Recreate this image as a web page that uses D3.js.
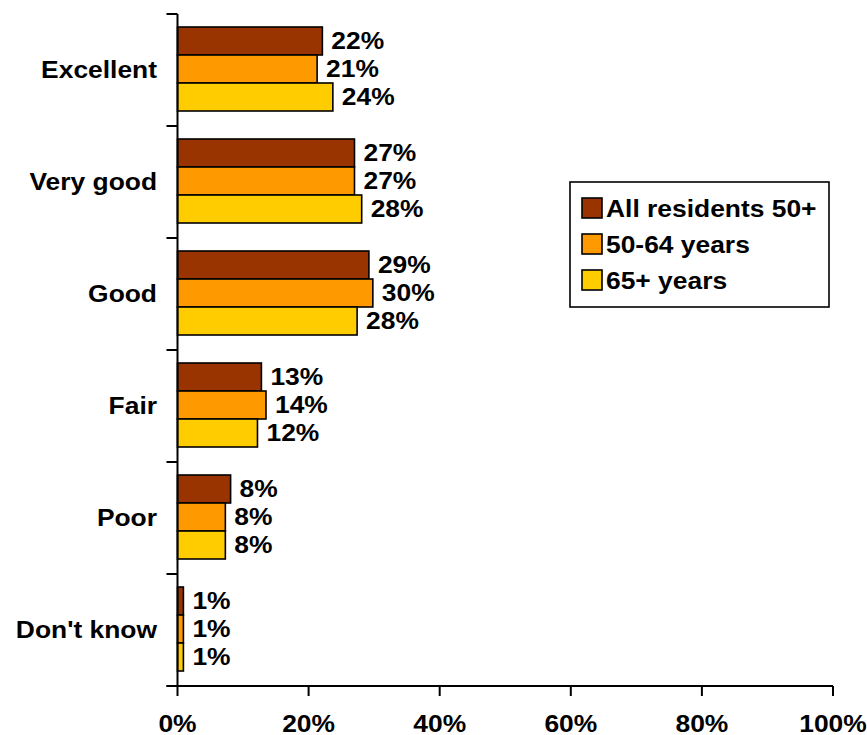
<!DOCTYPE html>
<html><head><meta charset="utf-8">
<script src="https://cdn.jsdelivr.net/npm/d3@7"></script>
<style>body{margin:0;background:#fff}text{font-family:"Liberation Sans",Arial,sans-serif;font-weight:bold;fill:#000}</style>
</head><body><svg id="c" width="867" height="735"></svg>
<script>
const categories = ["Excellent","Very good","Good","Fair","Poor","Don't know"];
const series = ["All residents 50+","50-64 years","65+ years"];
const colors = ["#993300","#FF9900","#FFCC00"];
const allResidents = [22.1,27.0,29.2,12.8,8.1,0.9];
const age5064 = [21.3,27.0,29.8,13.5,7.3,0.9];
const age65 = [23.7,28.1,27.4,12.2,7.3,0.9];
const labelsAll = ["22%","27%","29%","13%","8%","1%"];
const labels5064 = ["21%","27%","30%","14%","8%","1%"];
const labels65 = ["24%","28%","28%","12%","8%","1%"];
const xTicks = [0,20,40,60,80,100];

const values = [allResidents, age5064, age65];
const labels = [labelsAll, labels5064, labels65];
const SX = 1.1;

const svg = d3.select("#c");
const x = d3.scaleLinear().domain([0,100]).range([177.5,833]);
const y0 = d3.scaleBand().domain(categories).range([14,686]).padding(0);
const y1 = d3.scaleBand().domain(series).range([13,97]).padding(0);

function place(sel, fx, fy){
  sel.attr("transform",(d,i)=>`translate(${fx(d,i)},${fy(d,i)}) scale(${SX},1)`)
     .attr("font-size","24px").attr("dy","0.36em");
}

// bars
series.forEach((s,si)=>{
  const g = svg.append("g");
  g.selectAll("rect").data(categories).join("rect")
    .attr("x", x(0))
    .attr("y", c=>y0(c)+y1(s))
    .attr("width", (c,i)=>x(values[si][i])-x(0))
    .attr("height", y1.bandwidth())
    .attr("fill", colors[si])
    .attr("stroke","#000").attr("stroke-width",1.6);
  g.selectAll("text").data(categories).join("text")
    .call(place,(c,i)=>x(values[si][i])+9,c=>y0(c)+y1(s)+y1.bandwidth()/2-1)
    .text((c,i)=>labels[si][i]);
});

// y axis
const ya = svg.append("g");
ya.append("line").attr("x1",x(0)).attr("x2",x(0)).attr("y1",14).attr("y2",686).attr("stroke","#000").attr("stroke-width",2);
const bounds = categories.map(c=>y0(c)).concat([686]);
ya.selectAll("line.t").data(bounds).join("line").attr("class","t")
  .attr("x1",x(0)-11).attr("x2",x(0)).attr("y1",d=>d).attr("y2",d=>d).attr("stroke","#000").attr("stroke-width",2);
ya.selectAll("text").data(categories).join("text")
  .call(place,()=>157,c=>y0(c)+y0.bandwidth()/2-1)
  .attr("text-anchor","end").text(c=>c);

// x axis
const xa = svg.append("g");
xa.append("line").attr("x1",x(0)-11).attr("x2",x(100)).attr("y1",686).attr("y2",686).attr("stroke","#000").attr("stroke-width",2);
xa.selectAll("line.t").data(xTicks).join("line").attr("class","t")
  .attr("x1",d=>x(d)).attr("x2",d=>x(d)).attr("y1",686).attr("y2",696).attr("stroke","#000").attr("stroke-width",2);
xa.selectAll("text").data(xTicks).join("text")
  .call(place,d=>x(d),()=>723)
  .attr("text-anchor","middle").text(d=>d+"%");

// legend
const lg = svg.append("g");
lg.append("rect").attr("x",570).attr("y",182).attr("width",259).attr("height",125).attr("fill","#fff").attr("stroke","#000").attr("stroke-width",1.6);
series.forEach((s,i)=>{
  const cy = 208 + i*36;
  lg.append("rect").attr("x",582).attr("y",cy-10).attr("width",20).attr("height",20).attr("fill",colors[i]).attr("stroke","#000").attr("stroke-width",1.6);
  lg.append("text").datum(s).call(place,()=>606,()=>cy).text(s);
});
</script></body></html>
